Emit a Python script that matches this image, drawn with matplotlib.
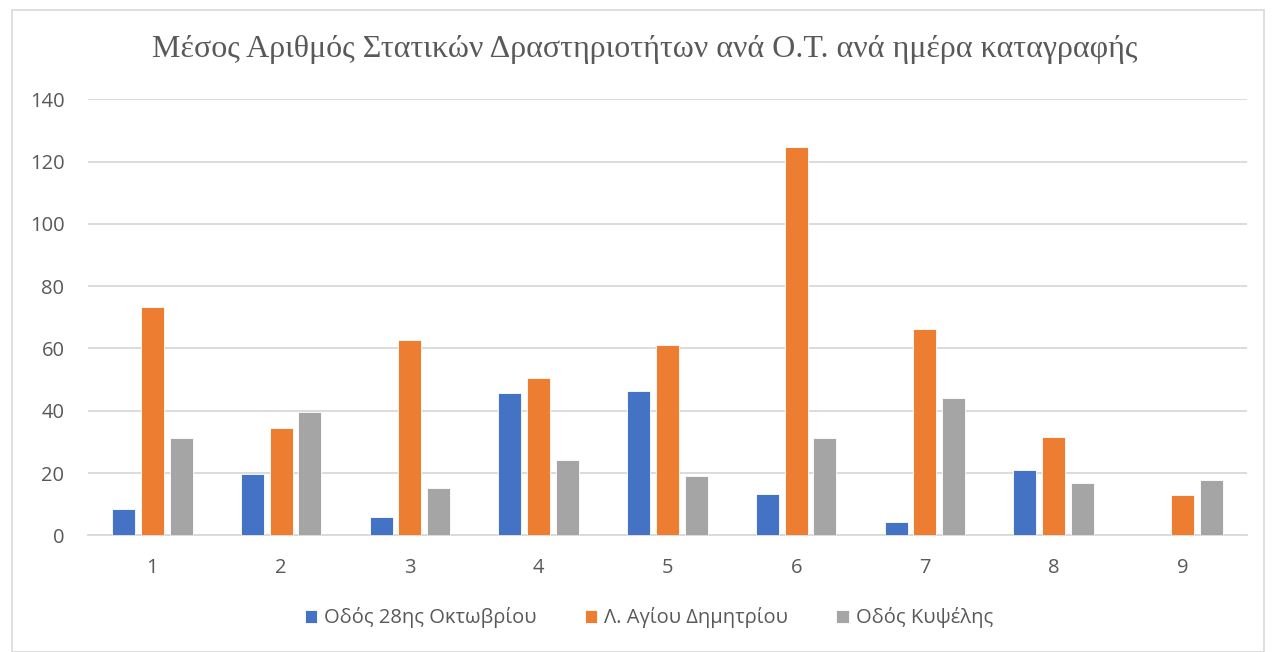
import matplotlib
matplotlib.use("Agg")
import matplotlib.pyplot as plt
import numpy as np
from matplotlib.patches import Rectangle

categories = ["1", "2", "3", "4", "5", "6", "7", "8", "9"]
series_names = ["Οδός 28ης Οκτωβρίου", "Λ. Αγίου Δημητρίου", "Οδός Κυψέλης"]
odos_28is = [8.3, 19.7, 6.0, 45.8, 46.2, 13.2, 4.3, 21.1, 0]
agiou_dimitriou = [73.2, 34.5, 62.6, 50.4, 61.1, 124.7, 66.2, 31.7, 13.0]
kypselis = [31.2, 39.7, 15.2, 24.2, 19.1, 31.2, 44.2, 16.9, 17.9]
colors = ["#4472C4", "#ED7D31", "#A5A5A5"]
title = "Μέσος Αριθμός Στατικών Δραστηριοτήτων ανά Ο.Τ. ανά ημέρα καταγραφής"
yticks = [0, 20, 40, 60, 80, 100, 120, 140]

fig = plt.figure(figsize=(12.76, 6.52), dpi=100)
fig.patch.set_facecolor("white")
fig.patches.append(Rectangle((12/1276, 0), 1 - 24/1276, 1 - 10/652, transform=fig.transFigure,
                             fill=False, edgecolor="#d9d9d9", linewidth=1.2))

ax = fig.add_axes([88/1276, 1 - 535.3/652, (1246.75 - 88)/1276, (535.3 - 99.3)/652])
x = np.arange(len(categories))
step = 0.223
width = 0.178
for i, (vals, name) in enumerate(zip([odos_28is, agiou_dimitriou, kypselis], series_names)):
    ax.bar(x + (i - 1) * step, vals, width=width, color=colors[i], label=name,
           edgecolor="white", linewidth=0.6, zorder=3)

ax.set_xlim(-0.5, len(categories) - 0.5)
ax.set_ylim(0, 140)
ax.set_yticks(yticks)
ax.set_xticks(x)
ax.set_xticklabels(categories)
ax.grid(axis="y", color="#d9d9d9", linewidth=1.3, zorder=0)
for s in ["top", "right", "left"]:
    ax.spines[s].set_visible(False)
ax.spines["bottom"].set_color("#d9d9d9")
ax.spines["bottom"].set_linewidth(1.3)
ax.tick_params(axis="both", length=0, labelsize=14.5, labelcolor="#595959")
ax.tick_params(axis="y", pad=17)
ax.tick_params(axis="x", pad=16)
for lbl in ax.get_xticklabels() + ax.get_yticklabels():
    lbl.set_family("Open Sans")

fig.text(645/1276, 1 - 50/652, title, ha="center", va="center", fontsize=23,
         family="Liberation Serif", color="#595959")

leg = fig.legend(loc="center", bbox_to_anchor=(649/1276, 1 - 618/652), ncol=3, frameon=False,
                 prop={"family": "Open Sans", "size": 14.5}, handlelength=0.6, handleheight=0.6,
                 columnspacing=2.4, handletextpad=0.35)
for t in leg.get_texts():
    t.set_color("#595959")

fig.savefig("out.png", dpi=100, facecolor="white")
